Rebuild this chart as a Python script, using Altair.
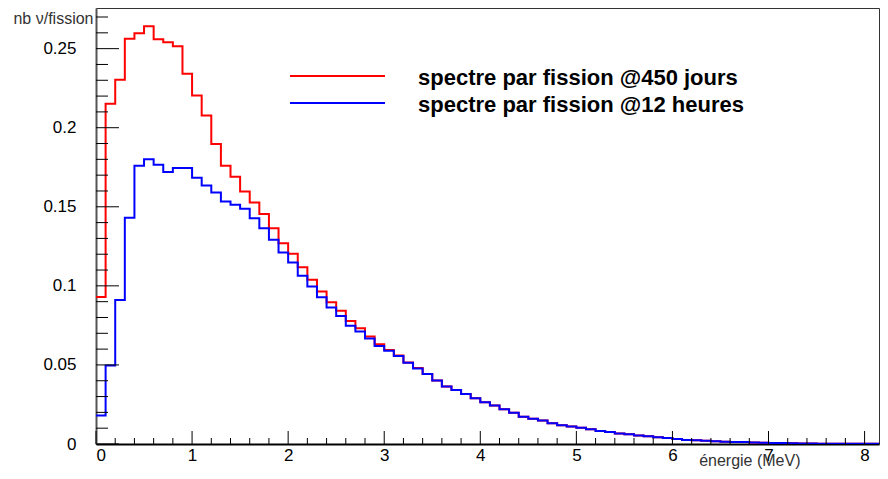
import altair as alt
import pandas as pd

# ---- data (bins of 0.1 MeV starting at 0) ----
bin_width = 0.1
red_vals = [0.093, 0.2152, 0.2304, 0.2563, 0.2597, 0.2641, 0.2559, 0.254, 0.2515, 0.2342,
            0.2203, 0.2078, 0.1897, 0.176, 0.169, 0.1597, 0.1527, 0.1454, 0.1365, 0.127,
            0.1203, 0.1118, 0.1038, 0.0964, 0.0897, 0.0842, 0.0778, 0.0732, 0.0679, 0.0631,
            0.0595, 0.0560, 0.0516, 0.0480, 0.0443, 0.0401, 0.0363, 0.0342, 0.0316, 0.0289,
            0.0264, 0.0243, 0.0219, 0.0198, 0.0173, 0.016, 0.0148, 0.0131, 0.0118, 0.011,
            0.0103, 0.0093, 0.0082, 0.0076, 0.0066, 0.0061, 0.0053, 0.0049, 0.0042, 0.0038,
            0.0031, 0.0026, 0.0023, 0.0021, 0.0017, 0.0015, 0.0013, 0.0012, 0.0009, 0.0008,
            0.0007, 0.0007, 0.0004, 0.0003, 0.0003, 0.0002, 0.0002, 0.0002, 0.0001, 0.0001,
            0.0001, 0.0001, 0.0001]
blue_vals = [0.018, 0.0496, 0.0911, 0.143, 0.176, 0.180, 0.1766, 0.172, 0.1745, 0.1745,
             0.1684, 0.1635, 0.159, 0.1534, 0.1513, 0.1487, 0.1428, 0.1365, 0.1291, 0.1211,
             0.1148, 0.1064, 0.0996, 0.0928, 0.0863, 0.081, 0.0747, 0.0711, 0.0667, 0.062,
             0.0589, 0.0557, 0.0513, 0.0478, 0.0443, 0.0401, 0.0363, 0.0342, 0.0316, 0.0289,
             0.0264, 0.0243, 0.0219, 0.0198, 0.0173, 0.016, 0.0148, 0.0131, 0.0118, 0.011,
             0.0103, 0.0093, 0.0082, 0.0076, 0.0066, 0.0061, 0.0053, 0.0049, 0.0042, 0.0038,
             0.0031, 0.0026, 0.0023, 0.0021, 0.0017, 0.0015, 0.0013, 0.0012, 0.0009, 0.0008,
             0.0007, 0.0007, 0.0004, 0.0003, 0.0003, 0.0002, 0.0002, 0.0002, 0.0001, 0.0001,
             0.0001, 0.0001, 0.0001]
legend_labels = ["spectre par fission @450 jours", "spectre par fission @12 heures"]
series_colors = ["#ff0000", "#0000ff"]
x_major = [0, 1, 2, 3, 4, 5, 6, 7, 8]
x_minor = [round(0.2 * i, 2) for i in range(42) if i % 5 != 0]
y_major = [0, 0.05, 0.1, 0.15, 0.2, 0.25]
y_minor = [round(0.01 * i, 2) for i in range(28) if i % 5 != 0]
x_title = "énergie (MeV)"
y_title = "nb ν/fission"

W, H = 783, 436
X_MAX, Y_MAX = 8.15, 0.2757
FONT = "Liberation Sans"


def hist_frame(vals):
    xs = [round(i * bin_width, 3) for i in range(len(vals) + 1)]
    ys = list(vals) + [vals[-1]]
    return pd.DataFrame({"x": xs, "y": ys})


xs = alt.Scale(domain=[0, X_MAX], nice=False, zero=False)
ys = alt.Scale(domain=[0, Y_MAX], nice=False)
x_axis = alt.Axis(values=x_major, format="d", tickSize=0, labelPadding=3,
                  labelFontSize=17, labelFont=FONT, labelColor="#000",
                  domainColor="#000", domainWidth=2, grid=False,
                  title=x_title, titleFont=FONT, titleFontSize=16,
                  titleFontWeight="normal", titleColor="#333",
                  titleAlign="right", titleBaseline="middle", titleX=704, titleY=16)
y_axis = alt.Axis(values=y_major, format="~g", tickSize=0, labelPadding=20,
                  labelFontSize=17, labelFont=FONT, labelColor="#000",
                  domainColor="#555", domainWidth=2, grid=False,
                  title=y_title, titleFont=FONT, titleFontSize=16,
                  titleFontWeight="normal", titleColor="#333", titleAngle=0,
                  titleAlign="right", titleBaseline="middle", titleX=-3, titleY=10)

X = alt.X("x:Q", scale=xs, axis=x_axis)
Y = alt.Y("y:Q", scale=ys, axis=y_axis)

red = alt.Chart(hist_frame(red_vals)).mark_line(
    interpolate="step-after", color=series_colors[0], strokeWidth=2, clip=True
).encode(x=X, y=Y)
blue = alt.Chart(hist_frame(blue_vals)).mark_line(
    interpolate="step-after", color=series_colors[1], strokeWidth=2, clip=True
).encode(x=X, y=Y)

ymaj = alt.Chart(pd.DataFrame({"y": y_major})).mark_rule(color="#000", strokeWidth=1).encode(
    y=Y, x=alt.value(0), x2=alt.value(23))
ymin = alt.Chart(pd.DataFrame({"y": y_minor})).mark_rule(color="#000", strokeWidth=1).encode(
    y=Y, x=alt.value(0), x2=alt.value(12))
xmaj = alt.Chart(pd.DataFrame({"x": x_major})).mark_rule(color="#000", strokeWidth=1).encode(
    x=X, y=alt.value(H), y2=alt.value(H - 13))
xmin = alt.Chart(pd.DataFrame({"x": x_minor})).mark_rule(color="#000", strokeWidth=1).encode(
    x=X, y=alt.value(H), y2=alt.value(H - 6))

leg_layers = []
for i, (lab, col) in enumerate(zip(legend_labels, series_colors)):
    ly = 68 + 27 * i
    d = pd.DataFrame({"label": [lab]})
    leg_layers.append(alt.Chart(d).mark_rule(color=col, strokeWidth=2).encode(
        x=alt.value(194), x2=alt.value(289), y=alt.value(ly)))
    leg_layers.append(alt.Chart(d).mark_text(
        align="left", baseline="middle", font=FONT, fontSize=22, fontWeight="bold",
        color="#000").encode(text="label:N", x=alt.value(322), y=alt.value(ly + 2)))

chart = alt.layer(red, blue, ymaj, ymin, xmaj, xmin, *leg_layers).properties(
    width=W, height=H,
    autosize=alt.AutoSizeParams(type="none"),
    padding={"left": 88, "top": 0, "right": 1, "bottom": 27},
    background="white",
).configure_view(stroke="#333", strokeWidth=1)

chart.save("out.html", embed_options={"renderer": "svg", "actions": False})
